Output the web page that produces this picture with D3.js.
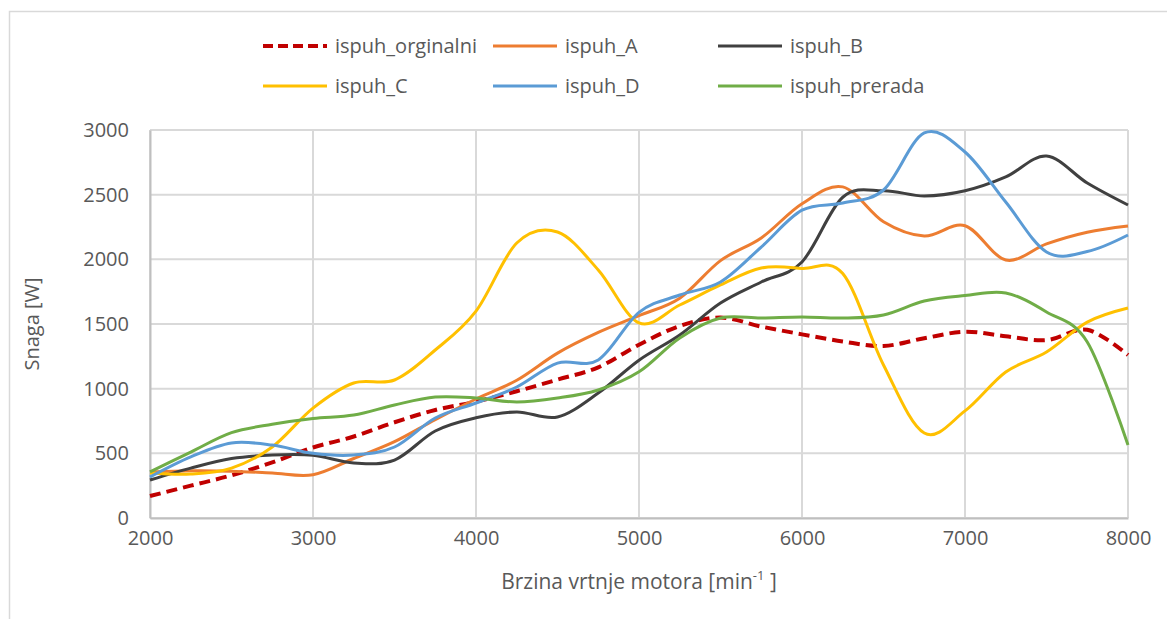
<!DOCTYPE html>
<html>
<head>
<meta charset="utf-8">
<script src="https://cdn.jsdelivr.net/npm/d3@7"></script>
<style>
    body { margin: 0; background: #fff; }
    text { font-family: "Open Sans", "Noto Sans", sans-serif; fill: #595959; }
</style>
</head>
<body>
<div id="holder"></div>
<script>
// engine speed [min^-1]
const rpm = [2000, 2250, 2500, 2750, 3000, 3250, 3500, 3750, 4000, 4250, 4500, 4750, 5000,
    5250, 5500, 5750, 6000, 6250, 6500, 6750, 7000, 7250, 7500, 7750, 8000];

// power [W]
const ispuhOrginalni = [170, 250, 330, 430, 545, 630, 740, 835, 900, 980, 1070, 1165, 1340,
    1485, 1550, 1480, 1420, 1365, 1330, 1390, 1440, 1405, 1375, 1455, 1260];
const ispuhA = [355, 365, 362, 348, 335, 460, 590, 760, 920, 1065, 1275, 1435, 1565,
    1700, 1990, 2165, 2430, 2560, 2290, 2180, 2260, 1995, 2120, 2210, 2258];
const ispuhB = [294, 386, 460, 487, 485, 425, 448, 673, 775, 820, 781, 966, 1220,
    1415, 1662, 1825, 1980, 2480, 2530, 2490, 2530, 2637, 2799, 2590, 2420];
const ispuhC = [348, 340, 386, 549, 850, 1044, 1067, 1299, 1600, 2126, 2211, 1918, 1508,
    1647, 1802, 1933, 1930, 1890, 1183, 657, 828, 1129, 1283, 1515, 1624];
const ispuhD = [317, 472, 580, 564, 500, 487, 549, 773, 889, 1013, 1198, 1222, 1590,
    1724, 1825, 2095, 2380, 2435, 2536, 2977, 2830, 2443, 2057, 2060, 2188];
const ispuhPrerada = [356, 510, 660, 725, 770, 796, 874, 935, 928, 897, 928, 990, 1130,
    1392, 1546, 1546, 1554, 1546, 1570, 1678, 1720, 1740, 1593, 1361, 564];

const seriesNames = ["ispuh_orginalni", "ispuh_A", "ispuh_B", "ispuh_C", "ispuh_D", "ispuh_prerada"];
const seriesValues = [ispuhOrginalni, ispuhA, ispuhB, ispuhC, ispuhD, ispuhPrerada];
const xTicks = [2000, 3000, 4000, 5000, 6000, 7000, 8000];
const yTicks = [0, 500, 1000, 1500, 2000, 2500, 3000];

const colors = ["#C00000", "#ED7D31", "#404040", "#FFC000", "#5B9BD5", "#70AD47"];

const w = 1167, h = 619;
const plotLeft = 150, plotRight = 1128, plotTop = 130, plotBottom = 518;
const fontSize = 20;

const svg = d3.select('#holder')
    .append('svg')
    .attr('width', w)
    .attr('height', h);

// outer chart frame
svg.append('rect')
    .attr('x', 9.5).attr('y', 11.5)
    .attr('width', 1180).attr('height', 640)
    .attr('fill', 'none')
    .attr('stroke', '#D9D9D9')
    .attr('stroke-width', 1.5);

const xScale = d3.scaleLinear().domain([2000, 8000]).range([plotLeft, plotRight]);
const yScale = d3.scaleLinear().domain([0, 3000]).range([plotBottom, plotTop]);

// grid
svg.append('g')
    .selectAll('line')
    .data(xTicks)
    .join('line')
    .attr('x1', d => xScale(d)).attr('x2', d => xScale(d))
    .attr('y1', plotTop).attr('y2', plotBottom)
    .attr('stroke', '#D9D9D9').attr('stroke-width', 2);

svg.append('g')
    .selectAll('line')
    .data(yTicks)
    .join('line')
    .attr('x1', plotLeft).attr('x2', plotRight)
    .attr('y1', d => yScale(d)).attr('y2', d => yScale(d))
    .attr('stroke', '#D9D9D9').attr('stroke-width', 2);

// axes (only labels, Excel style)
const xAxis = d3.axisBottom(xScale).tickValues(xTicks).tickFormat(d3.format('d')).tickSize(0).tickPadding(13);
const yAxis = d3.axisLeft(yScale).tickValues(yTicks).tickFormat(d3.format('d')).tickSize(0).tickPadding(21);

svg.append('g')
    .attr('transform', `translate(0,${plotBottom})`)
    .call(xAxis)
    .call(g => g.select('.domain').attr('stroke', '#BFBFBF').attr('stroke-width', 2))
    .call(g => g.selectAll('text').attr('font-size', fontSize).attr('fill', '#595959'));

svg.append('g')
    .attr('transform', `translate(${plotLeft},0)`)
    .call(yAxis)
    .call(g => g.select('.domain').attr('stroke', '#BFBFBF').attr('stroke-width', 2))
    .call(g => g.selectAll('text').attr('font-size', fontSize).attr('fill', '#595959'));

// lines
const line = d3.line()
    .x((d, i) => xScale(rpm[i]))
    .y(d => yScale(d))
    .curve(d3.curveCatmullRom.alpha(0));

svg.append('g')
    .selectAll('path')
    .data(seriesValues)
    .join('path')
    .attr('d', d => line(d))
    .attr('fill', 'none')
    .attr('stroke', (d, i) => colors[i])
    .attr('stroke-width', (d, i) => i === 0 ? 4 : 3)
    .attr('stroke-dasharray', (d, i) => i === 0 ? '11,6' : null)
    .attr('stroke-linejoin', 'round');

// legend
const legendX = [263, 493, 718];
const legendY = [46, 86];
const legend = svg.append('g')
    .selectAll('g')
    .data(seriesNames)
    .join('g')
    .attr('transform', (d, i) => `translate(${legendX[i % 3]},${legendY[Math.floor(i / 3)]})`);

legend.append('line')
    .attr('x1', 0).attr('x2', 64)
    .attr('stroke', (d, i) => colors[i])
    .attr('stroke-width', (d, i) => i === 0 ? 4 : 3)
    .attr('stroke-dasharray', (d, i) => i === 0 ? '10,5' : null);

legend.append('text')
    .attr('x', 72)
    .attr('dy', '0.35em')
    .attr('font-size', fontSize)
    .text(d => d);

// axis titles
const xTitle = svg.append('text')
    .attr('x', (plotLeft + plotRight) / 2)
    .attr('y', 589)
    .attr('text-anchor', 'middle')
    .attr('font-size', fontSize + 1);
xTitle.append('tspan').text('Brzina vrtnje motora [min');
xTitle.append('tspan').attr('baseline-shift', 'super').attr('font-size', 13).text('-1');
xTitle.append('tspan').text(' ]');

svg.append('text')
    .attr('transform', `translate(39,${(plotTop + plotBottom) / 2}) rotate(-90)`)
    .attr('text-anchor', 'middle')
    .attr('font-size', fontSize)
    .text('Snaga [W]');
</script>
</body>
</html>
